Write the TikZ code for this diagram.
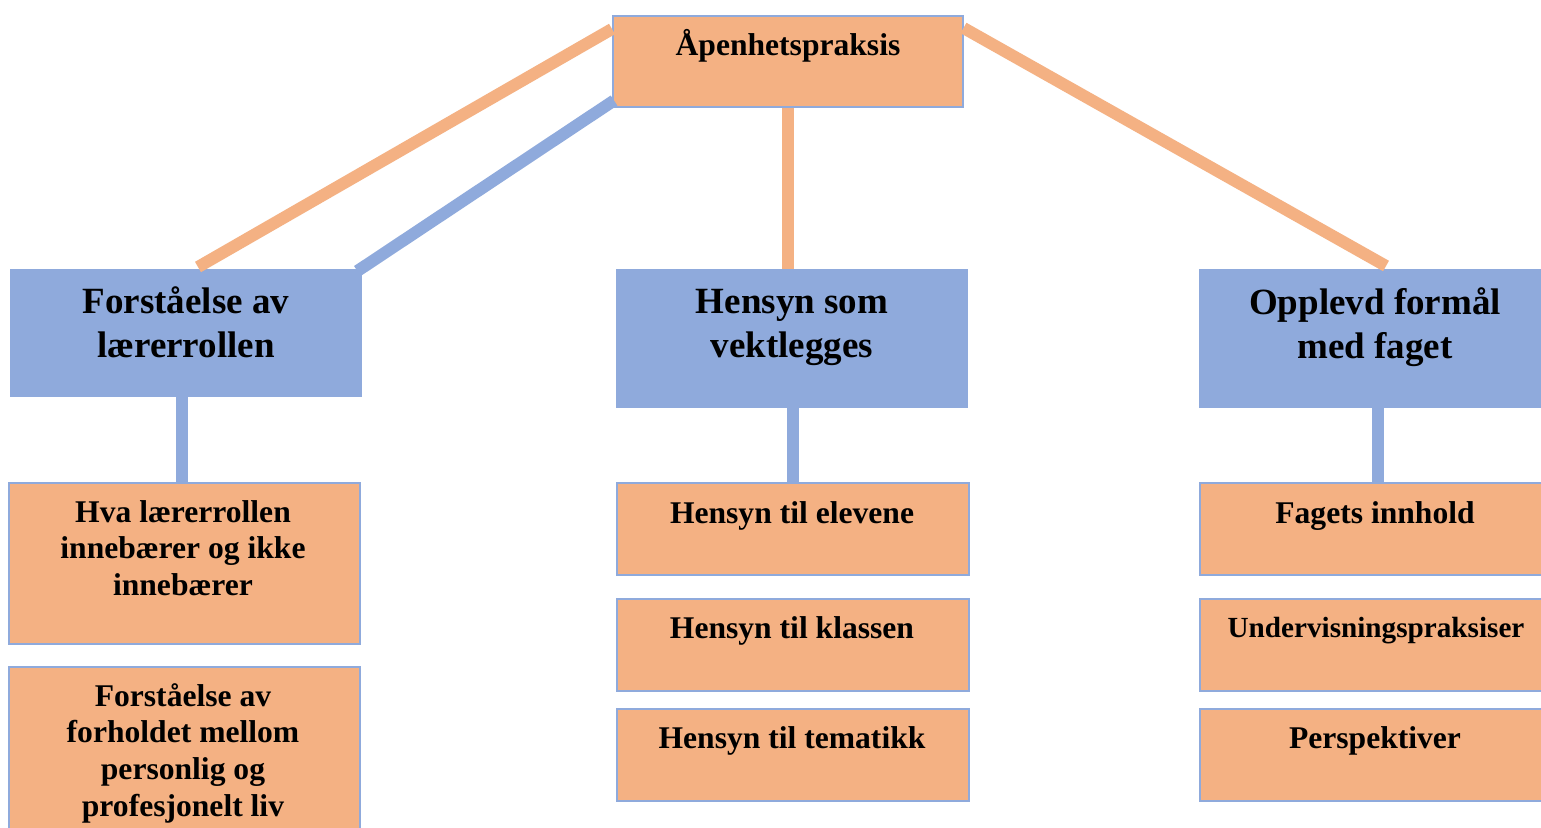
\documentclass[tikz,border=0pt]{standalone}
\usepackage{fontspec}
\setmainfont{Liberation Serif}
\usetikzlibrary{calc}
\definecolor{orfill}{HTML}{F4B183}
\definecolor{blfill}{HTML}{8FAADC}
\tikzset{
  obox/.style={draw=blfill, line width=1.5pt, fill=orfill, anchor=north west, inner sep=0pt, minimum width=352pt},
  bbox/.style={fill=blfill, anchor=north west, inner sep=0pt, minimum width=352pt},
  bigtxt/.style={font=\fontsize{37pt}{43.5pt}\selectfont\bfseries, align=center, anchor=base, inner sep=0pt},
  smalltxt/.style={font=\fontsize{31.6pt}{36.6pt}\selectfont\bfseries, align=center, anchor=base, inner sep=0pt},
  oline/.style={draw=orfill, line width=12pt},
  bline/.style={draw=blfill, line width=12pt}
}
\begin{document}
\begin{tikzpicture}[x=1pt,y=-1pt]
\useasboundingbox[fill=white] (0,0) rectangle (1541,827);
% boxes
\node[obox, minimum width=350pt, minimum height=91pt] (top) at (612,15) {};
\node[bbox, minimum height=128pt] (L) at (10,269) {};
\node[bbox, minimum height=139pt] (M) at (616,269) {};
\node[bbox, minimum height=139pt] (R) at (1199,269) {};
\node[obox, minimum width=351pt, minimum height=161pt] (L1) at (8,482) {};
\node[obox, minimum width=351pt, minimum height=190pt] (L2) at (8,666) {};
\node[obox, minimum height=92pt] (M1) at (616,482) {};
\node[obox, minimum height=92pt] (M2) at (616,598) {};
\node[obox, minimum height=92pt] (M3) at (616,708) {};
\node[obox, minimum height=92pt] (R1) at (1199,482) {};
\node[obox, minimum height=92pt] (R2) at (1199,598) {};
\node[obox, minimum height=92pt] (R3) at (1199,708) {};
% texts (anchor=base is the baseline of the last line)
\node[smalltxt] (ttop) at (788,55) {Åpenhetspraksis};
\node[bigtxt] (tL) at (186,357) {Forståelse av\\lærerrollen};
\node[bigtxt] (tM) at (792,357) {Hensyn som\\vektlegges};
\node[bigtxt] (tR) at (1375,358) {Opplevd formål\\med faget};
\node[smalltxt] (tL1) at (183,595.5) {Hva lærerrollen\\innebærer og ikke\\innebærer};
\node[smalltxt] (tL2) at (183,816) {Forståelse av\\forholdet mellom\\personlig og\\profesjonelt liv};
\node[smalltxt] (tM1) at (792,523) {Hensyn til elevene};
\node[smalltxt] (tM2) at (792,638) {Hensyn til klassen};
\node[smalltxt] (tM3) at (792,748) {Hensyn til tematikk};
\node[smalltxt] (tR1) at (1375,523) {Fagets innhold};
\node[smalltxt, font=\fontsize{29.2pt}{34pt}\selectfont\bfseries] (tR2) at (1376,637) {Undervisningspraksiser};
\node[smalltxt] (tR3) at (1375,748) {Perspektiver};
% connectors
\draw[oline] ($(top.north west)+(0,14)$) -- ($(L.north west)+(188,-2)$);
\draw[bline] ($(top.south west)+(2,-7)$) -- ($(L.north east)+(-5,2)$);
\draw[oline] (top.south) -- (top.south |- M.north);
\draw[oline] ($(top.north east)+(0,13)$) -- ($(R.north west)+(187,-3)$);
\draw[bline] ($(L.south west)+(172,0)$) -- ($(L1.north west)+(174,0)$);
\draw[bline] ($(M.south west)+(177,0)$) -- ($(M1.north west)+(177,0)$);
\draw[bline] ($(R.south west)+(179,0)$) -- ($(R1.north west)+(179,0)$);
\end{tikzpicture}
\end{document}
